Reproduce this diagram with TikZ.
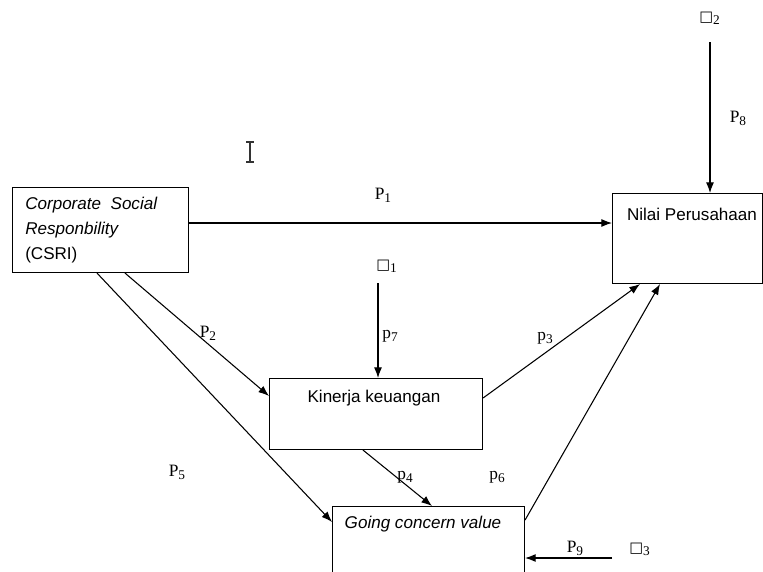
\documentclass[tikz,border=0pt]{standalone}
\usepackage{fontspec}
\setmainfont{Liberation Serif}
\setsansfont{Liberation Sans}
\newfontfamily\symfont{DejaVu Sans}
\usetikzlibrary{calc,arrows.meta}
\newcommand{\plab}[2]{#1\raisebox{-0.35ex}{\fontsize{10}{12}\selectfont #2}}
\newcommand{\elab}[1]{{\symfont\fontsize{11}{13}\selectfont\char"25A1}\raisebox{-0.35ex}{\fontsize{10}{12}\selectfont #1}}
\begin{document}
\begin{tikzpicture}[>={Latex[length=8pt,width=6pt]}, x=0.75pt, y=-0.75pt,
  box/.style={draw, line width=0.8pt, inner sep=0pt, anchor=north west},
  boxtext/.style={font=\sffamily\fontsize{12.8}{18.75}\selectfont, inner sep=0pt},
  plabel/.style={font=\fontsize{13}{15}\selectfont, inner sep=0pt},
  link/.style={->, line width=0.8pt}]
\useasboundingbox (0,0) rectangle (763,571);
% boxes
\node[box, minimum width=132pt, minimum height=63.75pt] (csri) at (12,187) {};
\node[box, minimum width=112.5pt, minimum height=67.5pt] (nilai) at (612,193) {};
\node[box, minimum width=159.75pt, minimum height=53.25pt] (kinerja) at (269,378) {};
\node[box, minimum width=144pt, minimum height=54pt] (going) at (332,506) {};
\node[boxtext, anchor=north west, align=left] (csritext) at (25,197)
  {\textit{Corporate\ \ Social}\\\textit{Responbility}\\(CSRI)};
\node[boxtext] (nilaitext) at (692,214) {Nilai Perusahaan};
\node[boxtext] (kinerjatext) at (374,398) {Kinerja keuangan};
\node[boxtext] (goingtext) at (423,524) {\textit{Going concern value}};
% error terms
\node[plabel, anchor=west] (e1) at (376,266) {\elab{1}};
\node[plabel, anchor=west] (e2) at (699,18) {\elab{2}};
\node[plabel, anchor=west] (e3) at (629,549) {\elab{3}};
% path labels
\node[plabel] (p1) at (383,195) {\plab{P}{1}};
\node[plabel] (p2) at (208,333) {\plab{P}{2}};
\node[plabel] (p3) at (545,338) {\plab{p}{3}};
\node[plabel] (p4) at (405,477) {\plab{p}{4}};
\node[plabel] (p5) at (177,472) {\plab{P}{5}};
\node[plabel] (p6) at (497,477) {\plab{p}{6}};
\node[plabel] (p7) at (390,336) {\plab{p}{7}};
\node[plabel] (p8) at (738,118) {\plab{P}{8}};
\node[plabel] (p9) at (575,548) {\plab{P}{9}};
% connectors
\draw[link] ($(csri.north east)+(0,36)$) -- ($(nilai.north west)+(0,30)$);
\draw[link] ($(e2.west)+(11,24)$) -- ($(e2.west |- nilai.north)+(11,0)$);
\draw[link] ($(e1.west)+(2,17)$) -- ($(e1.west |- kinerja.north)+(2,0)$);
\draw[link] ($(csri.south west)+(113,0)$) -- ($(kinerja.north west)+(0,18)$);
\draw[link] ($(csri.south west)+(85,0)$) -- ($(going.north west)+(0,16)$);
\draw[link] ($(kinerja.north east)+(0,20)$) -- ($(nilai.south west)+(28,0)$);
\draw[link] ($(kinerja.south west)+(94,0)$) -- ($(going.north west)+(100,0)$);
\draw[link] ($(going.north east)+(0,14)$) -- ($(nilai.south west)+(48,0)$);
\draw[link] ($(e3.west)+(-17,9)$) -- ($(going.north east)+(0,52)$);
% cursor
\draw[line width=0.8pt, black!80] (250,142) -- (250,162)
  (246,142) -- (254,142) (246,162) -- (254,162);
\end{tikzpicture}
\end{document}
